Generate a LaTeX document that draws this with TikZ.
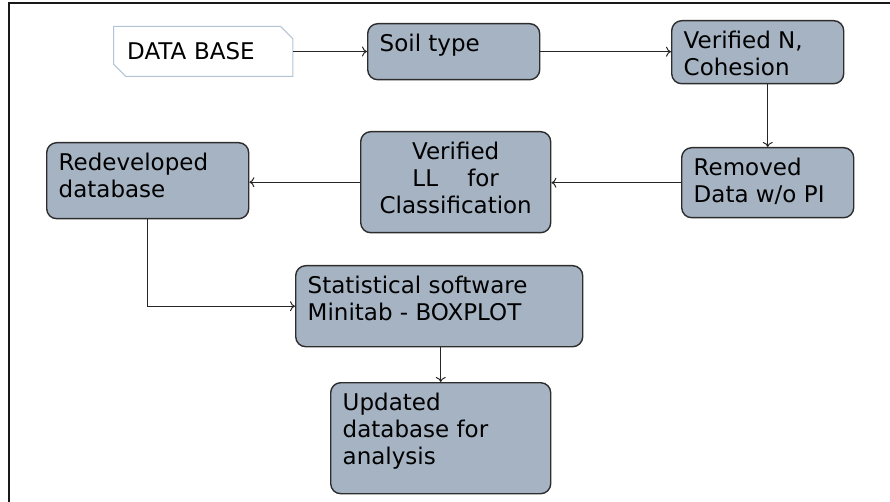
\documentclass[tikz,border=0pt]{standalone}
\usepackage{fontspec}
\setmainfont{DejaVu Sans}
\usetikzlibrary{shapes.misc, arrows.meta}

\definecolor{stagefill}{RGB}{165,179,195}
\definecolor{stageline}{RGB}{45,45,45}
\definecolor{dbline}{RGB}{178,196,214}

\tikzset{
	stagebox/.style={draw=stageline, fill=stagefill, line width=1.4pt, rounded corners=10pt,
		inner xsep=12pt, inner ysep=10pt, anchor=north west, font=\fontsize{23}{27}\selectfont},
	dbbox/.style={chamfered rectangle, chamfered rectangle corners={north east, south west},
		chamfered rectangle xsep=9pt, draw=dbline, line width=1pt, fill=white,
		inner xsep=5pt, inner ysep=0pt, text width=152pt, minimum height=50pt, align=left,
		anchor=north west, font=\fontsize{23}{27}\selectfont},
	flow/.style={-{To[length=5pt, width=10pt]}, line width=1pt, draw=black!85},
	frame/.style={line width=1.5pt, draw=black!90}
}

\newcommand{\stage}[7]{
	\pgfmathsetmacro{\STw}{#4 - 24}
	\pgfmathsetmacro{\STh}{#5 - 20}
	\node[stagebox] (#1) at (#2, #3) {\parbox[c][\STh pt][t]{\STw pt}{#6#7}};
}

\begin{document}
\begin{tikzpicture}[x=1pt, y=-1pt]
\useasboundingbox (0,0) rectangle (890,502);
\draw[frame] (9,502) -- (9,3) -- (890,3);

\node[dbbox] (db) at (113,26) {DATA BASE};

\stage{soil}{367}{23}{172}{56}{\raggedright}{Soil type}
\stage{verN}{671}{20}{172}{63}{\raggedright}{Verified N,\\Cohesion}
\stage{removed}{681}{147}{172}{70}{\raggedright}{Removed\\Data w/o PI}
\stage{verLL}{360}{131}{190}{101}{\centering}{Verified\\LL\ \ \ \ for\\Classification}
\stage{redev}{46}{142}{202}{76}{\raggedright}{Redeveloped\\database}
\stage{stat}{295}{265}{287}{81}{\raggedright}{Statistical software\\Minitab - BOXPLOT}
\stage{upd}{330}{382}{220}{111}{\raggedright}{Updated\\database for\\analysis}

\draw[flow] (db.east) -- (db.east -| soil.west);
\draw[flow] (soil.east) -- (soil.east -| verN.west);
\draw[flow] (verN.south -| removed.north) -- (removed.north);
\draw[flow] (removed.west) -- (removed.west -| verLL.east);
\draw[flow] (verLL.west) -- (verLL.west -| redev.east);
\draw[flow] (redev.south) |- (stat.west);
\draw[flow] (stat.south -| upd.north) -- (upd.north);
\end{tikzpicture}
\end{document}
